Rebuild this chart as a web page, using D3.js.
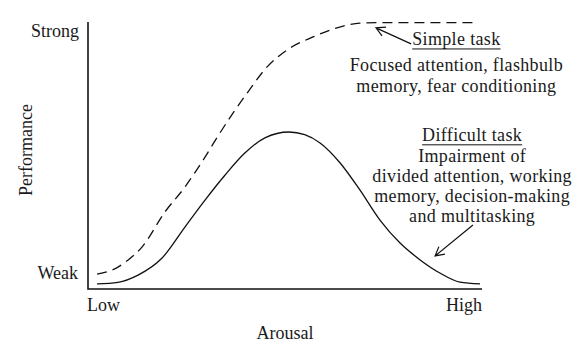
<!DOCTYPE html>
<html>
<head>
<meta charset="utf-8">
<script src="https://cdn.jsdelivr.net/npm/d3@7"></script>
<style>
  html, body { margin: 0; padding: 0; background: #fff; }
  svg text { font-family: "Liberation Serif", "DejaVu Serif", serif; fill: #1a1a1a; }
</style>
</head>
<body>
<svg id="chart" width="584" height="363"></svg>
<script>
// arousal (0-100) vs performance (0-100)
const simpleTask = [
  [2.3, 5.6], [7.6, 8.2], [10.2, 10.9], [13.7, 15.7], [19.5, 28.8],
  [24.6, 38.2], [29.7, 49.4], [32.7, 56.6], [36.8, 65.9], [40.4, 73.4],
  [45.4, 83.1], [50.5, 89.5], [57.1, 94.4], [63.2, 97.8], [69.0, 99.6],
  [74.1, 99.8], [99.0, 99.8]
];
const difficultTask = [
  [2.3, 1.9], [7.6, 2.5], [12.7, 5.2], [18.8, 11.6], [24.6, 23.2],
  [29.7, 33.3], [34.8, 42.7], [39.8, 50.9], [44.9, 56.6], [51.0, 58.8],
  [55.0, 57.8], [58.9, 54.7], [64.0, 47.2], [69.0, 37.1], [74.1, 25.8],
  [79.2, 17.2], [84.3, 10.9], [89.3, 6.0], [94.4, 2.6], [99.5, 1.9]
];

const yTickLabels = ["Weak", "Strong"];
const xTickLabels = ["Low", "High"];
const xTitle = "Arousal";
const yTitle = "Performance";

// annotation anchors in data units (x centre, title baseline)
const simpleNote = { title: "Simple task", lines: ["Focused attention, flashbulb", "memory, fear conditioning"],
                     at: [93.5, 91.4], firstGap: 26.5, gap: 20.5,
                     arrowFrom: [82.0, 91.8], arrowTo: [73.1, 97.8] };
const difficultNote = { title: "Difficult task",
                        lines: ["Impairment of", "divided attention, working", "memory, decision-making", "and multitasking"],
                        at: [97.5, 55.5], firstGap: 21, gap: 20,
                        arrowFrom: [97.7, 24.0], arrowTo: [88.1, 12.4] };

const svg = d3.select("#chart");
const x = d3.scaleLinear().domain([0, 100]).range([88, 482]);
const y = d3.scaleLinear().domain([0, 100]).range([289, 22]);

// axes (plain lines, no ticks)
svg.append("path")
  .attr("d", `M${x(0)},${y(100)} V${y(0)} H${x(100)}`)
  .attr("fill", "none")
  .attr("stroke", "#111")
  .attr("stroke-width", 1.6);

svg.append("text").attr("x", x(0) - 9).attr("y", y(100) + 15)
  .attr("text-anchor", "end").attr("font-size", 18).text(yTickLabels[1]);
svg.append("text").attr("x", x(0) - 10).attr("y", y(0) - 10)
  .attr("text-anchor", "end").attr("font-size", 18).text(yTickLabels[0]);
svg.append("text").attr("x", x(0) - 1).attr("y", y(0) + 22)
  .attr("text-anchor", "start").attr("font-size", 18).text(xTickLabels[0]);
svg.append("text").attr("x", x(100)).attr("y", y(0) + 22)
  .attr("text-anchor", "end").attr("font-size", 18).text(xTickLabels[1]);

svg.append("text").attr("x", 285).attr("y", 339)
  .attr("text-anchor", "middle").attr("font-size", 18).text(xTitle);
svg.append("text").attr("transform", "translate(32,150) rotate(-90)")
  .attr("text-anchor", "middle").attr("font-size", 18).text(yTitle);

const line = d3.line()
  .x(d => x(d[0]))
  .y(d => y(d[1]))
  .curve(d3.curveMonotoneX);

svg.append("path").datum(simpleTask)
  .attr("d", line)
  .attr("fill", "none")
  .attr("stroke", "#111")
  .attr("stroke-width", 1.3)
  .attr("stroke-dasharray", "10 6");

svg.append("path").datum(difficultTask)
  .attr("d", line)
  .attr("fill", "none")
  .attr("stroke", "#111")
  .attr("stroke-width", 1.3);

// open arrowheads
function arrow(from, to) {
  const x1 = x(from[0]), y1 = y(from[1]), x2 = x(to[0]), y2 = y(to[1]);
  const a = Math.atan2(y2 - y1, x2 - x1);
  const len = 10, spread = 0.5;
  const p1 = [x2 - len * Math.cos(a - spread), y2 - len * Math.sin(a - spread)];
  const p2 = [x2 - len * Math.cos(a + spread), y2 - len * Math.sin(a + spread)];
  svg.append("path")
    .attr("d", `M${x1},${y1} L${x2},${y2} M${p1} L${x2},${y2} L${p2}`)
    .attr("fill", "none")
    .attr("stroke", "#111")
    .attr("stroke-width", 1.2);
}

function note(n) {
  const cx = x(n.at[0]);
  const top = y(n.at[1]);
  const t = svg.append("text").attr("x", cx).attr("y", top)
    .attr("text-anchor", "middle").attr("font-size", 18)
    .attr("letter-spacing", 0.35).text(n.title);
  const w = t.node().getComputedTextLength();
  svg.append("line")
    .attr("x1", cx - w / 2).attr("x2", cx + w / 2)
    .attr("y1", top + 4).attr("y2", top + 4)
    .attr("stroke", "#111").attr("stroke-width", 1);
  n.lines.forEach((s, i) => {
    svg.append("text").attr("x", cx).attr("y", top + n.firstGap + n.gap * i)
      .attr("text-anchor", "middle").attr("font-size", 18)
      .attr("letter-spacing", 0.35).text(s);
  });
  arrow(n.arrowFrom, n.arrowTo);
}

note(simpleNote);
note(difficultNote);
</script>
</body>
</html>
